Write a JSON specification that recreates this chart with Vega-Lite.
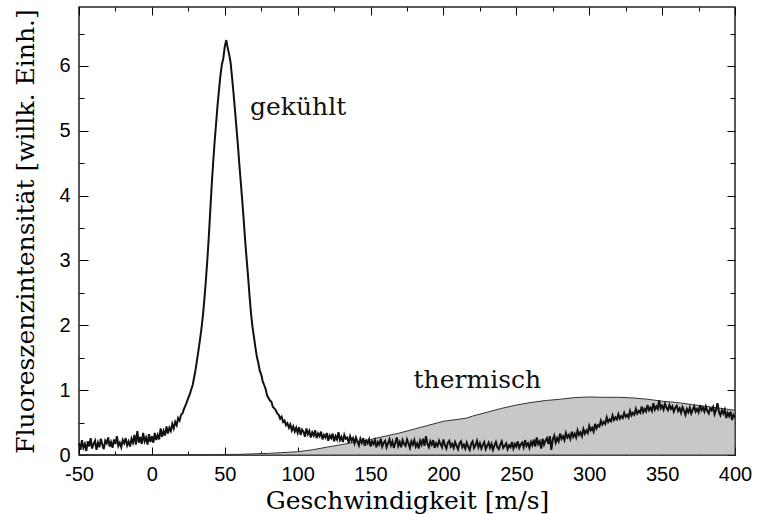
{
 "$schema": "https://vega.github.io/schema/vega-lite/v6.json",
 "width": 656, "height": 448,
 "autosize": {"type": "none"},
 "padding": {"left": 79, "top": 7, "right": 22, "bottom": 59},
 "background": "white",
 "config": {"view": {"stroke": "#222", "strokeWidth": 1.5}},
 "datasets": {
  "thermal": [
   {"v":-50,"i":0},{"v":0,"i":0},{"v":40,"i":0.005},{"v":60,"i":0.01},{"v":80,"i":0.025},{"v":100,"i":0.05},{"v":110,"i":0.08},{"v":120,"i":0.12},{"v":130,"i":0.16},{"v":140,"i":0.2},{"v":150,"i":0.24},{"v":160,"i":0.29},{"v":170,"i":0.34},{"v":180,"i":0.4},{"v":190,"i":0.46},{"v":200,"i":0.52},{"v":210,"i":0.55},{"v":216,"i":0.57},{"v":220,"i":0.6},{"v":230,"i":0.66},{"v":240,"i":0.72},{"v":250,"i":0.77},{"v":260,"i":0.81},{"v":270,"i":0.84},{"v":280,"i":0.86},{"v":290,"i":0.885},{"v":300,"i":0.895},{"v":310,"i":0.89},{"v":320,"i":0.89},{"v":330,"i":0.88},{"v":340,"i":0.86},{"v":350,"i":0.83},{"v":360,"i":0.81},{"v":370,"i":0.78},{"v":380,"i":0.75},{"v":390,"i":0.72},{"v":400,"i":0.69}
  ],
  "cooled": [
   {"v":-50,"i":0.18},{"v":-49,"i":0.08},{"v":-48,"i":0.23},{"v":-47,"i":0.11},{"v":-46,"i":0.17},{"v":-45,"i":0.06},{"v":-44,"i":0.21},{"v":-43,"i":0.13},{"v":-42,"i":0.26},{"v":-41,"i":0.10},{"v":-40,"i":0.17},{"v":-39,"i":0.22},{"v":-38,"i":0.08},{"v":-37,"i":0.19},{"v":-36,"i":0.12},{"v":-35,"i":0.25},{"v":-34,"i":0.16},{"v":-33,"i":0.09},{"v":-32,"i":0.22},{"v":-31,"i":0.18},{"v":-30,"i":0.27},{"v":-29,"i":0.13},{"v":-28,"i":0.20},{"v":-27,"i":0.11},{"v":-26,"i":0.24},{"v":-25,"i":0.17},{"v":-24,"i":0.29},{"v":-23,"i":0.14},{"v":-22,"i":0.19},{"v":-21,"i":0.12},{"v":-20,"i":0.23},{"v":-19,"i":0.18},{"v":-18,"i":0.26},{"v":-17,"i":0.15},{"v":-16,"i":0.21},{"v":-15,"i":0.13},{"v":-14,"i":0.25},{"v":-13,"i":0.19},{"v":-12,"i":0.31},{"v":-11,"i":0.16},{"v":-10,"i":0.37},{"v":-9,"i":0.19},{"v":-8,"i":0.28},{"v":-7,"i":0.17},{"v":-6,"i":0.34},{"v":-5,"i":0.21},{"v":-4,"i":0.27},{"v":-3,"i":0.16},{"v":-2,"i":0.32},{"v":-1,"i":0.20},{"v":0,"i":0.29},{"v":1,"i":0.19},{"v":2,"i":0.34},{"v":3,"i":0.23},{"v":4,"i":0.31},{"v":5,"i":0.24},{"v":6,"i":0.41},{"v":7,"i":0.28},{"v":8,"i":0.37},{"v":9,"i":0.30},{"v":10,"i":0.44},{"v":11,"i":0.33},{"v":12,"i":0.42},{"v":13,"i":0.37},{"v":14,"i":0.48},{"v":15,"i":0.41},{"v":16,"i":0.51},{"v":17,"i":0.46},{"v":18,"i":0.57},{"v":19,"i":0.53},{"v":20,"i":0.62},{"v":21,"i":0.64},{"v":22,"i":0.71},{"v":23,"i":0.76},{"v":24,"i":0.82},{"v":25,"i":0.88},{"v":26,"i":0.94},{"v":27,"i":1.01},{"v":28,"i":1.08},{"v":29,"i":1.2},{"v":30,"i":1.32},{"v":31,"i":1.47},{"v":32,"i":1.62},{"v":33,"i":1.78},{"v":34,"i":1.95},{"v":35,"i":2.15},{"v":36,"i":2.4},{"v":37,"i":2.68},{"v":38,"i":3.0},{"v":39,"i":3.35},{"v":40,"i":3.75},{"v":41,"i":4.15},{"v":42,"i":4.5},{"v":43,"i":4.82},{"v":44,"i":5.1},{"v":45,"i":5.38},{"v":46,"i":5.62},{"v":47,"i":5.85},{"v":48,"i":6.02},{"v":49,"i":6.12},{"v":50,"i":6.3},{"v":51,"i":6.4},{"v":52,"i":6.28},{"v":53,"i":6.18},{"v":54,"i":6.05},{"v":55,"i":5.82},{"v":56,"i":5.58},{"v":57,"i":5.32},{"v":58,"i":5.05},{"v":59,"i":4.78},{"v":60,"i":4.48},{"v":61,"i":4.2},{"v":62,"i":3.92},{"v":63,"i":3.62},{"v":64,"i":3.3},{"v":65,"i":3.02},{"v":66,"i":2.75},{"v":67,"i":2.45},{"v":68,"i":2.18},{"v":69,"i":1.98},{"v":70,"i":1.82},{"v":71,"i":1.66},{"v":72,"i":1.52},{"v":73,"i":1.42},{"v":74,"i":1.3},{"v":75,"i":1.24},{"v":76,"i":1.14},{"v":77,"i":1.08},{"v":78,"i":1.02},{"v":79,"i":0.92},
   {"v":80,"i":0.88},{"v":81,"i":0.84},{"v":82,"i":0.82},{"v":83,"i":0.74},{"v":84,"i":0.72},{"v":85,"i":0.69},{"v":86,"i":0.64},{"v":87,"i":0.62},{"v":88,"i":0.56},{"v":89,"i":0.59},{"v":90,"i":0.51},{"v":91,"i":0.53},{"v":92,"i":0.46},{"v":93,"i":0.49},{"v":94,"i":0.42},{"v":95,"i":0.47},{"v":96,"i":0.38},{"v":97,"i":0.44},{"v":98,"i":0.36},{"v":99,"i":0.42},
   {"v":100,"i":0.34},{"v":101,"i":0.43},{"v":102,"i":0.31},{"v":103,"i":0.39},{"v":104,"i":0.36},{"v":105,"i":0.28},{"v":106,"i":0.41},{"v":107,"i":0.32},{"v":108,"i":0.37},{"v":109,"i":0.27},{"v":110,"i":0.35},{"v":111,"i":0.30},{"v":112,"i":0.38},{"v":113,"i":0.26},{"v":114,"i":0.33},{"v":115,"i":0.29},{"v":116,"i":0.36},{"v":117,"i":0.24},{"v":118,"i":0.31},{"v":119,"i":0.27},{"v":120,"i":0.34},{"v":121,"i":0.22},{"v":122,"i":0.30},{"v":123,"i":0.26},{"v":124,"i":0.33},{"v":125,"i":0.21},{"v":126,"i":0.29},{"v":127,"i":0.24},{"v":128,"i":0.35},{"v":129,"i":0.23},{"v":130,"i":0.28},{"v":131,"i":0.20},{"v":132,"i":0.31},{"v":133,"i":0.25},{"v":134,"i":0.27},{"v":135,"i":0.19},{"v":136,"i":0.29},{"v":137,"i":0.22},{"v":138,"i":0.26},{"v":139,"i":0.18},{"v":140,"i":0.27},{"v":141,"i":0.21},{"v":142,"i":0.15},{"v":143,"i":0.25},{"v":144,"i":0.19},{"v":145,"i":0.26},{"v":146,"i":0.14},{"v":147,"i":0.22},{"v":148,"i":0.18},{"v":149,"i":0.24},{"v":150,"i":0.13},{"v":151,"i":0.21},{"v":152,"i":0.17},{"v":153,"i":0.23},{"v":154,"i":0.12},{"v":155,"i":0.20},{"v":156,"i":0.16},{"v":157,"i":0.25},{"v":158,"i":0.13},{"v":159,"i":0.19},{"v":160,"i":0.22},{"v":161,"i":0.12},{"v":162,"i":0.18},{"v":163,"i":0.24},{"v":164,"i":0.15},{"v":165,"i":0.21},{"v":166,"i":0.11},{"v":167,"i":0.19},{"v":168,"i":0.27},{"v":169,"i":0.14},{"v":170,"i":0.20},{"v":171,"i":0.12},{"v":172,"i":0.23},{"v":173,"i":0.17},{"v":174,"i":0.14},{"v":175,"i":0.24},{"v":176,"i":0.18},{"v":177,"i":0.11},{"v":178,"i":0.21},{"v":179,"i":0.16},{"v":180,"i":0.23},{"v":181,"i":0.13},{"v":182,"i":0.18},{"v":183,"i":0.10},{"v":184,"i":0.22},{"v":185,"i":0.16},{"v":186,"i":0.25},{"v":187,"i":0.14},{"v":188,"i":0.29},{"v":189,"i":0.17},{"v":190,"i":0.12},{"v":191,"i":0.21},{"v":192,"i":0.16},{"v":193,"i":0.23},{"v":194,"i":0.11},{"v":195,"i":0.18},{"v":196,"i":0.14},{"v":197,"i":0.22},{"v":198,"i":0.17},{"v":199,"i":0.12},{"v":200,"i":0.24},{"v":201,"i":0.15},{"v":202,"i":0.10},{"v":203,"i":0.19},{"v":204,"i":0.22},{"v":205,"i":0.13},{"v":206,"i":0.17},{"v":207,"i":0.11},{"v":208,"i":0.20},{"v":209,"i":0.14},{"v":210,"i":0.09},{"v":211,"i":0.18},{"v":212,"i":0.21},{"v":213,"i":0.12},{"v":214,"i":0.16},{"v":215,"i":0.10},{"v":216,"i":0.19},{"v":217,"i":0.13},{"v":218,"i":0.08},{"v":219,"i":0.17},{"v":220,"i":0.21},{"v":221,"i":0.11},{"v":222,"i":0.15},{"v":223,"i":0.22},{"v":224,"i":0.12},{"v":225,"i":0.18},{"v":226,"i":0.10},{"v":227,"i":0.16},{"v":228,"i":0.20},{"v":229,"i":0.09},{"v":230,"i":0.14},{"v":231,"i":0.19},{"v":232,"i":0.11},{"v":233,"i":0.17},{"v":234,"i":0.08},{"v":235,"i":0.15},{"v":236,"i":0.20},{"v":237,"i":0.12},{"v":238,"i":0.09},{"v":239,"i":0.16},{"v":240,"i":0.21},{"v":241,"i":0.11},{"v":242,"i":0.14},{"v":243,"i":0.18},{"v":244,"i":0.09},{"v":245,"i":0.15},{"v":246,"i":0.12},{"v":247,"i":0.20},{"v":248,"i":0.10},{"v":249,"i":0.17},{"v":250,"i":0.13},{"v":251,"i":0.21},{"v":252,"i":0.11},{"v":253,"i":0.16},{"v":254,"i":0.19},{"v":255,"i":0.12},{"v":256,"i":0.23},{"v":257,"i":0.14},{"v":258,"i":0.18},{"v":259,"i":0.11},{"v":260,"i":0.20},{"v":261,"i":0.15},{"v":262,"i":0.24},{"v":263,"i":0.13},{"v":264,"i":0.27},{"v":265,"i":0.17},{"v":266,"i":0.21},{"v":267,"i":0.10},{"v":268,"i":0.25},{"v":269,"i":0.16},{"v":270,"i":0.22},{"v":271,"i":0.26},{"v":272,"i":0.17},{"v":273,"i":0.29},{"v":274,"i":0.08},{"v":275,"i":0.24},{"v":276,"i":0.30},{"v":277,"i":0.19},{"v":278,"i":0.26},{"v":279,"i":0.21},{"v":280,"i":0.33},{"v":281,"i":0.25},{"v":282,"i":0.29},{"v":283,"i":0.23},{"v":284,"i":0.34},{"v":285,"i":0.27},{"v":286,"i":0.31},{"v":287,"i":0.25},{"v":288,"i":0.36},{"v":289,"i":0.28},{"v":290,"i":0.33},{"v":291,"i":0.27},{"v":292,"i":0.38},{"v":293,"i":0.31},{"v":294,"i":0.35},{"v":295,"i":0.29},{"v":296,"i":0.40},{"v":297,"i":0.33},{"v":298,"i":0.38},{"v":299,"i":0.34},{"v":300,"i":0.45},{"v":301,"i":0.38},{"v":302,"i":0.42},{"v":303,"i":0.36},{"v":304,"i":0.48},{"v":305,"i":0.41},{"v":306,"i":0.46},{"v":307,"i":0.44},{"v":308,"i":0.53},{"v":309,"i":0.47},{"v":310,"i":0.51},{"v":311,"i":0.48},{"v":312,"i":0.58},{"v":313,"i":0.51},{"v":314,"i":0.55},{"v":315,"i":0.52},{"v":316,"i":0.61},{"v":317,"i":0.54},{"v":318,"i":0.58},{"v":319,"i":0.55},{"v":320,"i":0.63},{"v":321,"i":0.56},{"v":322,"i":0.60},{"v":323,"i":0.57},{"v":324,"i":0.65},{"v":325,"i":0.59},{"v":326,"i":0.62},{"v":327,"i":0.58},{"v":328,"i":0.68},{"v":329,"i":0.61},{"v":330,"i":0.65},{"v":331,"i":0.62},{"v":332,"i":0.71},{"v":333,"i":0.64},{"v":334,"i":0.68},{"v":335,"i":0.65},{"v":336,"i":0.75},{"v":337,"i":0.66},{"v":338,"i":0.71},{"v":339,"i":0.67},{"v":340,"i":0.77},{"v":341,"i":0.69},{"v":342,"i":0.73},{"v":343,"i":0.68},{"v":344,"i":0.80},{"v":345,"i":0.70},{"v":346,"i":0.75},{"v":347,"i":0.71},{"v":348,"i":0.84},{"v":349,"i":0.72},{"v":350,"i":0.76},{"v":351,"i":0.70},{"v":352,"i":0.79},{"v":353,"i":0.73},{"v":354,"i":0.69},{"v":355,"i":0.77},{"v":356,"i":0.71},{"v":357,"i":0.75},{"v":358,"i":0.67},{"v":359,"i":0.73},{"v":360,"i":0.76},{"v":361,"i":0.68},{"v":362,"i":0.72},{"v":363,"i":0.65},{"v":364,"i":0.74},{"v":365,"i":0.69},{"v":366,"i":0.62},{"v":367,"i":0.71},{"v":368,"i":0.66},{"v":369,"i":0.73},{"v":370,"i":0.64},{"v":371,"i":0.70},{"v":372,"i":0.75},{"v":373,"i":0.67},{"v":374,"i":0.71},{"v":375,"i":0.66},{"v":376,"i":0.77},{"v":377,"i":0.69},{"v":378,"i":0.73},{"v":379,"i":0.67},{"v":380,"i":0.75},{"v":381,"i":0.68},{"v":382,"i":0.64},{"v":383,"i":0.72},{"v":384,"i":0.69},{"v":385,"i":0.74},{"v":386,"i":0.63},{"v":387,"i":0.70},{"v":388,"i":0.80},{"v":389,"i":0.66},{"v":390,"i":0.61},{"v":391,"i":0.69},{"v":392,"i":0.64},{"v":393,"i":0.70},{"v":394,"i":0.57},{"v":395,"i":0.65},{"v":396,"i":0.60},{"v":397,"i":0.67},{"v":398,"i":0.54},{"v":399,"i":0.62},{"v":400,"i":0.58}
  ],
  "labels": [
   {"v":67.3,"i":5.25,"label":"gekühlt"},
   {"v":179.5,"i":1.03,"label":"thermisch"}
  ]
 },
 "layer": [
  {
   "data": {"name": "thermal"},
   "mark": {"type": "area", "fill": "#c8c8c8", "stroke": "#333", "strokeWidth": 1, "fillOpacity": 1},
   "encoding": {
    "x": {"field": "v", "type": "quantitative", "scale": {"domain": [-50, 400], "nice": false, "zero": false},
     "axis": {"orient": "bottom", "values": [-50,-25,0,25,50,75,100,125,150,175,200,225,250,275,300,325,350,375,400],
      "labelExpr": "datum.value % 50 == 0 ? (datum.value < 0 ? '-' + abs(datum.value) : '' + datum.value) : ''",
      "domain": false, "grid": false,
      "tickSize": {"condition": {"test": "datum.value % 50 == 0", "value": -8}, "value": -4},
      "tickColor": "#000", "tickWidth": 1,
      "labelFont": "Liberation Sans", "labelFontSize": 20, "labelColor": "#000", "labelPadding": 17, "labelFlush": false, "labelOverlap": false,
      "title": "Geschwindigkeit [m/s]", "titleFont": "DejaVu Serif", "titleFontSize": 25, "titleFontWeight": "normal", "titleColor": "#000", "titlePadding": 0}},
    "y": {"field": "i", "type": "quantitative", "scale": {"domain": [0, 6.91], "nice": false, "zero": true},
     "axis": {"orient": "left", "values": [0,0.5,1,1.5,2,2.5,3,3.5,4,4.5,5,5.5,6,6.5],
      "labelExpr": "datum.value % 1 == 0 ? '' + datum.value : ''",
      "domain": false, "grid": false,
      "tickSize": {"condition": {"test": "datum.value % 1 == 0", "value": -9}, "value": -5},
      "tickColor": "#000", "tickWidth": 1,
      "labelFont": "Liberation Sans", "labelFontSize": 20, "labelColor": "#000", "labelPadding": 18, "labelOverlap": false, "labelFlush": false,
      "title": "Fluoreszenzintensität [willk. Einh.]", "titleFont": "DejaVu Serif", "titleFontSize": 25, "titleFontWeight": "normal", "titleColor": "#000", "titlePadding": 20}}
   }
  },
  {
   "data": {"name": "cooled"},
   "mark": {"type": "line", "color": "#111", "strokeWidth": 2},
   "encoding": {
    "x": {"field": "v", "type": "quantitative", "scale": {"domain": [-50, 400], "nice": false, "zero": false},
     "axis": {"orient": "top", "values": [-50,-25,0,25,50,75,100,125,150,175,200,225,250,275,300,325,350,375,400], "labels": false, "title": null,
      "domain": false, "grid": false, "tickSize": {"condition": {"test": "datum.value % 50 == 0", "value": -8}, "value": -4}, "tickColor": "#000", "tickWidth": 1}},
    "y": {"field": "i", "type": "quantitative", "scale": {"domain": [0, 6.91], "nice": false, "zero": true},
     "axis": {"orient": "right", "values": [0,0.5,1,1.5,2,2.5,3,3.5,4,4.5,5,5.5,6,6.5], "labels": false, "title": null,
      "domain": false, "grid": false, "tickSize": {"condition": {"test": "datum.value % 1 == 0", "value": -8}, "value": -5}, "tickColor": "#000", "tickWidth": 1}}
   }
  },
  {
   "data": {"name": "labels"},
   "mark": {"type": "text", "font": "DejaVu Serif", "fontSize": 25, "align": "left", "baseline": "alphabetic", "color": "#111"},
   "encoding": {
    "x": {"field": "v", "type": "quantitative", "axis": null},
    "y": {"field": "i", "type": "quantitative", "axis": null},
    "text": {"field": "label"}
   }
  }
 ],
 "resolve": {"axis": {"x": "independent", "y": "independent"}}
}
